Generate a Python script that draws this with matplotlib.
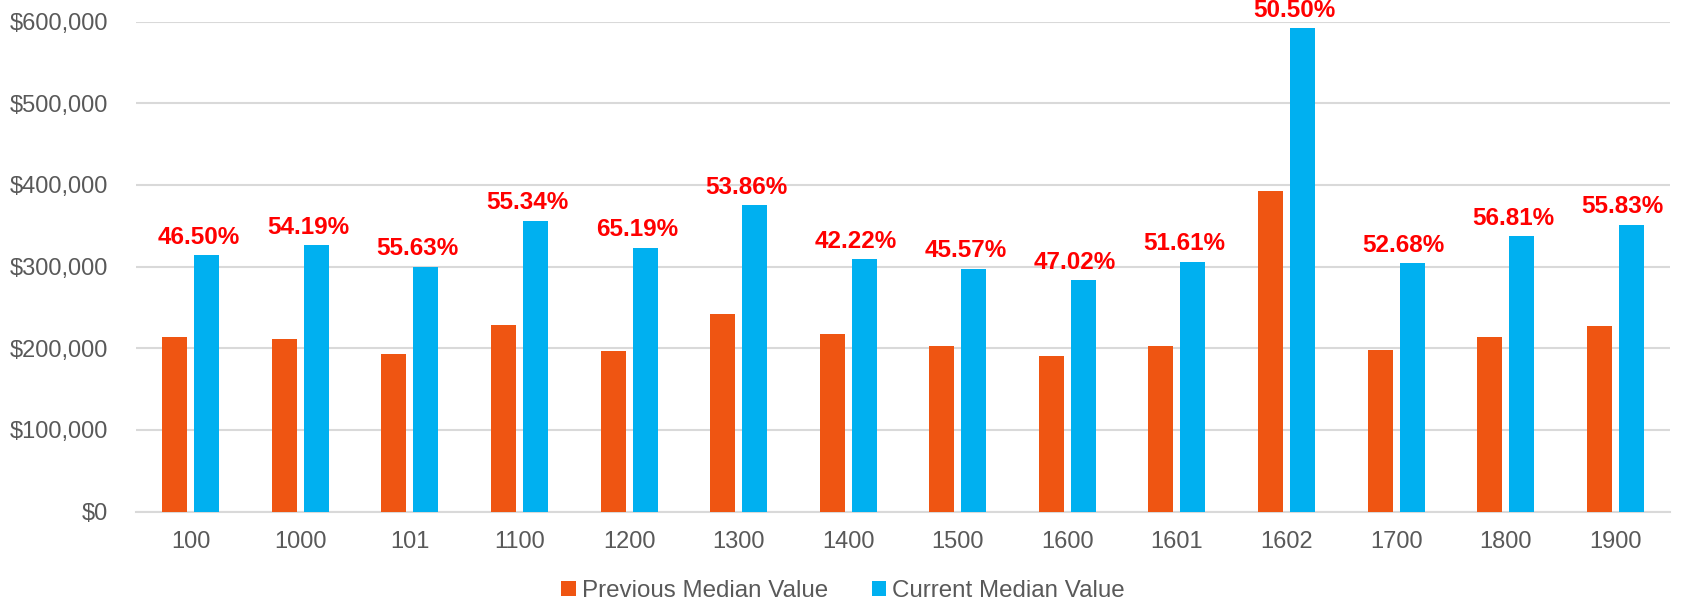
import matplotlib
matplotlib.use("Agg")
import matplotlib.pyplot as plt
import numpy as np
from matplotlib.ticker import FuncFormatter

categories = ["100", "1000", "101", "1100", "1200", "1300", "1400", "1500",
              "1600", "1601", "1602", "1700", "1800", "1900"]
previous = [214000, 211000, 193000, 229000, 196000, 242000, 217000, 203000,
            191000, 203000, 393000, 198000, 214000, 227000]
current = [314000, 326000, 300000, 356000, 323000, 375000, 309000, 297000,
           283000, 306000, 592000, 304000, 337000, 351000]
pct_labels = ["46.50%", "54.19%", "55.63%", "55.34%", "65.19%", "53.86%", "42.22%",
              "45.57%", "47.02%", "51.61%", "50.50%", "52.68%", "56.81%", "55.83%"]

plt.rcParams['font.family'] = ['Liberation Sans', 'DejaVu Sans']

W, H = 1686, 604
fig = plt.figure(figsize=(W / 100, H / 100), dpi=100)
left, right, top, bottom = 136, 1670, 21.7, 511.5
ax = fig.add_axes([left / W, 1 - bottom / H, (right - left) / W, (bottom - top) / H])

x = np.arange(len(categories))
w = 0.228
off = 0.146
orange = "#EF5512"
blue = "#00B0F0"
ax.bar(x - off, previous, width=w, color=orange, label="Previous Median Value", zorder=3)
ax.bar(x + off, current, width=w, color=blue, label="Current Median Value", zorder=3)

for xi, v, t in zip(x, current, pct_labels):
    ax.annotate(t, (xi + 0.07, v), xytext=(0, 13), textcoords="offset points",
                ha="center", va="center", color="#FF0000", fontsize=17.5,
                fontweight="bold", annotation_clip=False, zorder=4)

ax.set_ylim(0, 600000)
ax.set_xlim(-0.5, len(categories) - 0.5)
ax.set_yticks(np.arange(0, 600001, 100000))
ax.yaxis.set_major_formatter(FuncFormatter(lambda v, p: "${:,.0f}".format(v)))
ax.set_xticks(x)
ax.set_xticklabels(categories)
ax.grid(axis="y", color="#D9D9D9", linewidth=1.5, zorder=0)
for s in ["top", "right", "left"]:
    ax.spines[s].set_visible(False)
ax.spines["bottom"].set_color("#D9D9D9")
ax.spines["bottom"].set_linewidth(1.5)
ax.tick_params(axis="both", length=0, labelsize=17, colors="#595959")
ax.tick_params(axis="x", pad=14)
ax.tick_params(axis="y", pad=20)

handles, labels = ax.get_legend_handles_labels()
leg = fig.legend(handles, labels, loc="center", bbox_to_anchor=(0.5, 1 - 591 / H),
                 ncol=2, frameon=False, fontsize=17.4, handlelength=0.6,
                 handleheight=0.6, columnspacing=1.8, handletextpad=0.25,
                 borderpad=0, borderaxespad=0)
for t in leg.get_texts():
    t.set_color("#595959")

fig.savefig("out.png", dpi=100)
